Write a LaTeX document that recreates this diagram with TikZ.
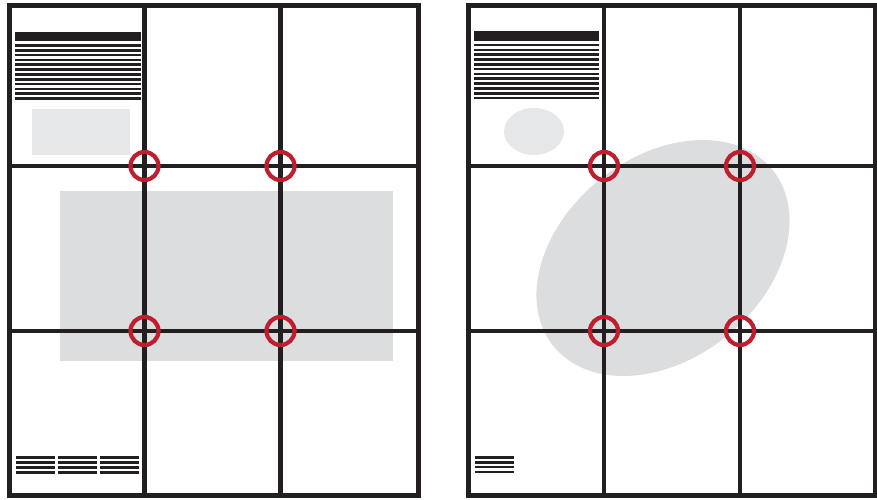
\documentclass[tikz,border=0pt]{standalone}
\usetikzlibrary{positioning}
\definecolor{gridink}{HTML}{231F20}
\definecolor{thirdsred}{HTML}{BE1E2D}
\definecolor{blockgray}{HTML}{DCDDDE}
\definecolor{palegray}{HTML}{E6E7E8}

\begin{document}
\begin{tikzpicture}[
        x=1pt, y=-1pt,
        frame/.style={draw=gridink, line width=5pt},
        gridrule/.style={draw=gridink, line width=4.2pt},
        textrule/.style={draw=gridink, line width=2.6pt},
        headbar/.style={fill=gridink},
        powerring/.style={draw=thirdsred, line width=4.2pt}
    ]
        \useasboundingbox (0,0) rectangle (877,499);

        % left page: rectangular blocks
        \fill[palegray] (32,109) rectangle (130,155);
        \fill[blockgray] (60,191) rectangle (393,361);
        \fill[headbar] (15,31.5) rectangle (141,41);
        \foreach \i in {0,...,11}
            \draw[textrule] (15,45.5+4.82*\i) -- (141,45.5+4.82*\i);
        \foreach \x in {16,58,100}
            \foreach \i in {0,...,3}
                \draw[textrule] (\x,457.5+5*\i) -- ++(39,0);

        % right page: round blocks
        \fill[palegray] (534,131.5) ellipse [x radius=30pt, y radius=23.5pt];
        \fill[blockgray, rotate around={38.7:(663,258)}]
            (663,258) ellipse [x radius=140.6pt, y radius=100.8pt];
        \fill[headbar] (474,31) rectangle (599,40.5);
        \foreach \i in {0,...,11}
            \draw[textrule] (474,45+4.82*\i) -- (599,45+4.82*\i);
        \foreach \i in {0,...,3}
            \draw[textrule] (475,457.3+4.9*\i) -- ++(39,0);

        % frames and thirds
        \draw[frame] (9.5,5.5) rectangle (418,495.5);
        \draw[frame] (468.5,5.5) rectangle (875.5,495.5);
        \foreach \x in {144.5,280.5,604,740}
            \draw[gridrule] (\x,5.5) -- (\x,495.5);
        \foreach \y in {166,331} {
            \draw[gridrule] (9.5,\y) -- (418,\y);
            \draw[gridrule] (468.5,\y) -- (875.5,\y);
        }

        % power points
        \foreach \x in {144.5,280.5,604,740}
            \foreach \y in {166,331}
                \draw[powerring] (\x,\y) circle [radius=14pt];
    \end{tikzpicture}
\end{document}
